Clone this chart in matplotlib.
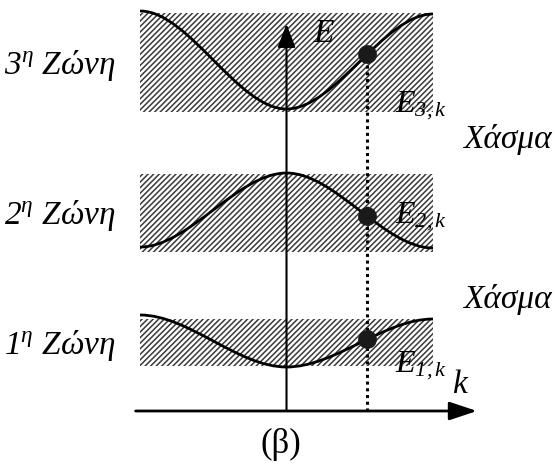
import numpy as np
import matplotlib
matplotlib.use('Agg')
import matplotlib.pyplot as plt
from matplotlib.path import Path
from matplotlib.patches import PathPatch, Rectangle

plt.rcParams['font.family'] = ['Liberation Serif', 'DejaVu Serif']
plt.rcParams['mathtext.fontset'] = 'custom'
plt.rcParams['mathtext.rm'] = 'Liberation Serif:italic'
plt.rcParams['mathtext.it'] = 'Liberation Serif:italic'
plt.rcParams['hatch.linewidth'] = 1.1

# band energies at k = -pi/a, 0, +pi/a (arbitrary units)
band_names = [r'1$^{\eta}$ Ζώνη', r'2$^{\eta}$ Ζώνη', r'3$^{\eta}$ Ζώνη']
band_edges = [[0.96, 0.44, 0.92],
              [1.64, 2.38, 1.63],
              [4.00, 3.02, 3.97]]
# shaded allowed-energy ranges (bottom, top)
band_ranges = [(0.45, 0.92), (1.59, 2.37), (2.99, 3.98)]
band_labels = [r'$E_{1,k}$', r'$E_{2,k}$', r'$E_{3,k}$']
gap_label = 'Χάσμα'
gap_centres = [1.12, 2.72]
k_mark = 0.55   # chosen wave vector, units of pi/a
k_edges = [-1.0, 0.0, 1.0]


def band_path(edges):
    # smooth curve with flat tangents at zone centre and zone edges
    verts = [(k_edges[0], edges[0])]
    codes = [Path.MOVETO]
    for i in range(2):
        k0, k1 = k_edges[i], k_edges[i + 1]
        e0, e1 = edges[i], edges[i + 1]
        dk = k1 - k0
        verts += [(k0 + dk / 3, e0), (k0 + 2 * dk / 3, e1), (k1, e1)]
        codes += [Path.CURVE4] * 3
    return Path(verts, codes)


def band_value(edges, k):
    # point on the same curve (x is linear in t with these handles)
    i = 0 if k < 0 else 1
    t = (k - k_edges[i]) / (k_edges[i + 1] - k_edges[i])
    s = 3 * t ** 2 - 2 * t ** 3
    return edges[i] + (edges[i + 1] - edges[i]) * s


fig = plt.figure(figsize=(5.55, 4.64), dpi=100)
ax = fig.add_axes([0, 0, 1, 1])
ax.set_xlim(-1.956, 1.833)
ax.set_ylim(-0.52, 4.12)
ax.axis('off')

for i in range(3):
    lo, hi = band_ranges[i]
    ax.add_patch(Rectangle((-1.0, lo), 2.0, hi - lo, facecolor='white',
                           edgecolor='#3a3a3a', hatch='//////', lw=0, zorder=1))
    ax.add_patch(PathPatch(band_path(band_edges[i]), facecolor='none',
                           edgecolor='black', lw=2.0, zorder=3))
    ax.text(-1.93, (lo + hi) / 2 - 0.02, band_names[i], fontsize=24,
            style='italic', ha='left', va='center')

# dots at the chosen k on each band
e_mark = [band_value(band_edges[i], k_mark) for i in range(3)]
ax.plot([k_mark] * 3, e_mark, 'o', ms=12.5, color='#1a1a1a', zorder=5)
for i in range(3):
    ax.text(0.74, e_mark[i] - [0.25, 0.0, 0.5][i], band_labels[i],
            fontsize=23, ha='left', va='center', zorder=6)

# dotted guide from the top band down to the k axis
ax.plot([k_mark, k_mark], [0, e_mark[2]], ls=(0, (1, 1.2)), lw=2.2,
        color='black', zorder=2)

for g in gap_centres:
    ax.text(1.81, g, gap_label, fontsize=24, style='italic',
            ha='right', va='center')

# axes
ax.annotate('', xy=(1.30, 0), xytext=(-1.03, 0),
            arrowprops=dict(arrowstyle='-|>,head_length=0.6,head_width=0.2',
                            color='black', lw=2, mutation_scale=28,
                            shrinkA=0, shrinkB=0), zorder=4)
ax.annotate('', xy=(0, 3.87), xytext=(0, 0),
            arrowprops=dict(arrowstyle='-|>,head_length=0.6,head_width=0.23',
                            color='black', lw=1.5, mutation_scale=24,
                            shrinkA=0, shrinkB=0), zorder=4)
ax.text(0.18, 3.78, '$E$', fontsize=24, ha='left', va='center', zorder=6)
ax.text(1.19, 0.27, '$k$', fontsize=24, ha='center', va='center')
ax.text(-0.04, -0.32, '(β)', fontsize=25, ha='center', va='center',
        family=['Liberation Serif', 'DejaVu Serif'])

fig.savefig('out.png', dpi=100)
